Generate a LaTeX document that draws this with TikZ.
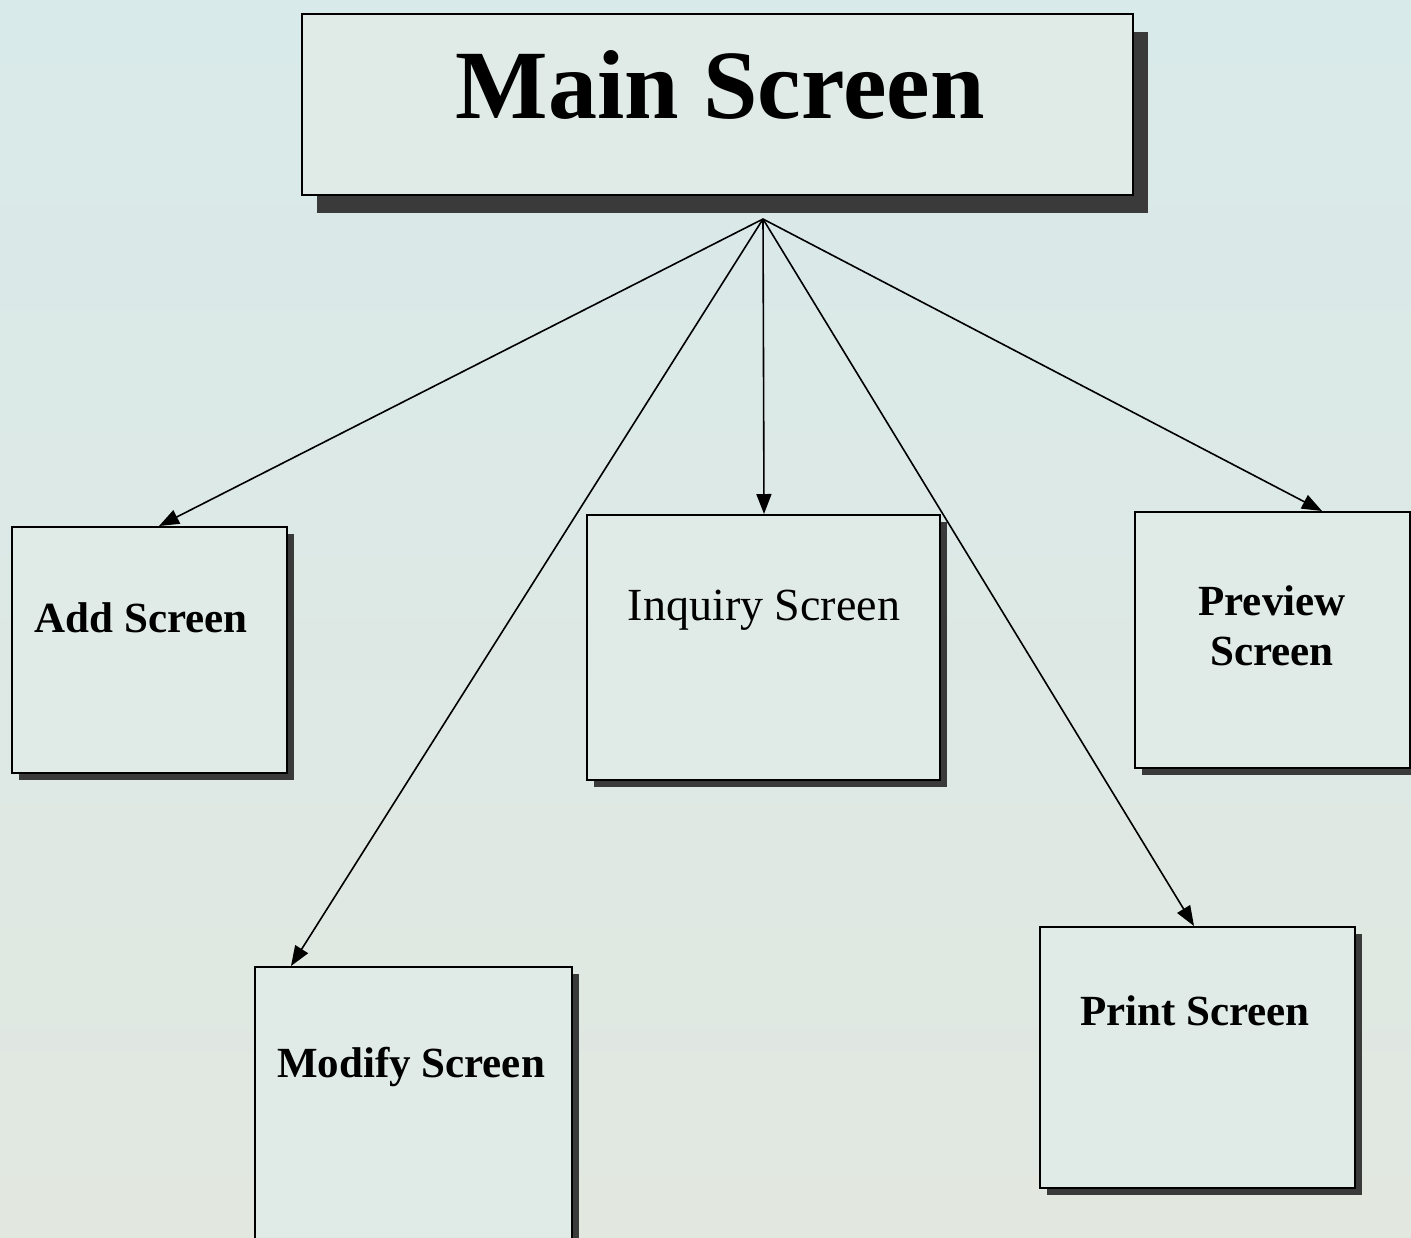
\documentclass[tikz,border=0pt]{standalone}
\usepackage{fontspec}
\setmainfont{Liberation Serif}
\usetikzlibrary{shadows,arrows.meta,calc}
\definecolor{bgtop}{HTML}{D8EAEA}
\definecolor{bgbot}{HTML}{E2E7E0}
\definecolor{boxc}{HTML}{E0EBE8}
\definecolor{shc}{HTML}{3A3A3A}
\tikzset{
  scrbox/.style={draw=black, line width=1pt, fill=boxc, inner sep=0pt,
    drop shadow={shadow xshift=3.5pt, shadow yshift=-3.5pt, fill=shc, opacity=1}},
  mainbox/.style={draw=black, line width=1pt, fill=boxc, inner sep=0pt,
    drop shadow={shadow xshift=7.5pt, shadow yshift=-9pt, fill=shc, opacity=1}},
  lbl/.style={anchor=base, inner sep=0pt, font=\fontsize{21.5}{24}\selectfont\bfseries},
  link/.style={line width=0.8pt, -{Triangle[length=10pt,width=7.5pt]}}
}
\begin{document}
\begin{tikzpicture}[x=0.5pt,y=-0.5pt]
\shade[top color=bgtop, bottom color=bgbot] (0,0) rectangle (1411,1237);
\useasboundingbox (0,0) rectangle (1411,1237);
% boxes
\node[mainbox, minimum width=415.5pt, minimum height=90.5pt] (main) at (717.5,104.5) {};
\node[scrbox, minimum width=137.5pt, minimum height=123pt] (add) at (149.5,650) {};
\node[scrbox, minimum width=176.5pt, minimum height=132.5pt] (inq) at (763.5,647.5) {};
\node[scrbox, minimum width=137.5pt, minimum height=128pt] (prev) at (1272.5,640) {};
\node[scrbox, minimum width=158.5pt, minimum height=139pt] (mod) at (413.5,1106) {};
\node[scrbox, minimum width=157.5pt, minimum height=130.5pt] (prt) at (1197.5,1057.5) {};
% labels
\node[anchor=base, inner sep=0pt, font=\fontsize{49}{52}\selectfont\bfseries] (mainlbl) at (720,118) {Main Screen};
\node[lbl] (addlbl) at (141,632) {Add Screen};
\node[anchor=base, inner sep=0pt, font=\fontsize{23}{26}\selectfont] (inqlbl) at (764,620) {Inquiry Screen};
\node[lbl] (prevlbl1) at (1272,615) {Preview};
\node[lbl] (prevlbl2) at (1272,665) {Screen};
\node[lbl] (modlbl) at (411,1077) {Modify Screen};
\node[lbl] (prtlbl) at (1195,1025) {Print Screen};
% connectors
\coordinate (apex) at (763,219);
\draw[link] (apex) -- ($(add.north west)+(148,0)$);
\draw[link] (apex) -- ($(mod.north west)+(37,0)$);
\draw[link] (apex) -- ($(inq.north west)+(178,0)$);
\draw[link] (apex) -- ($(prt.north west)+(155,0)$);
\draw[link] (apex) -- ($(prev.north west)+(188,0)$);
\end{tikzpicture}
\end{document}
